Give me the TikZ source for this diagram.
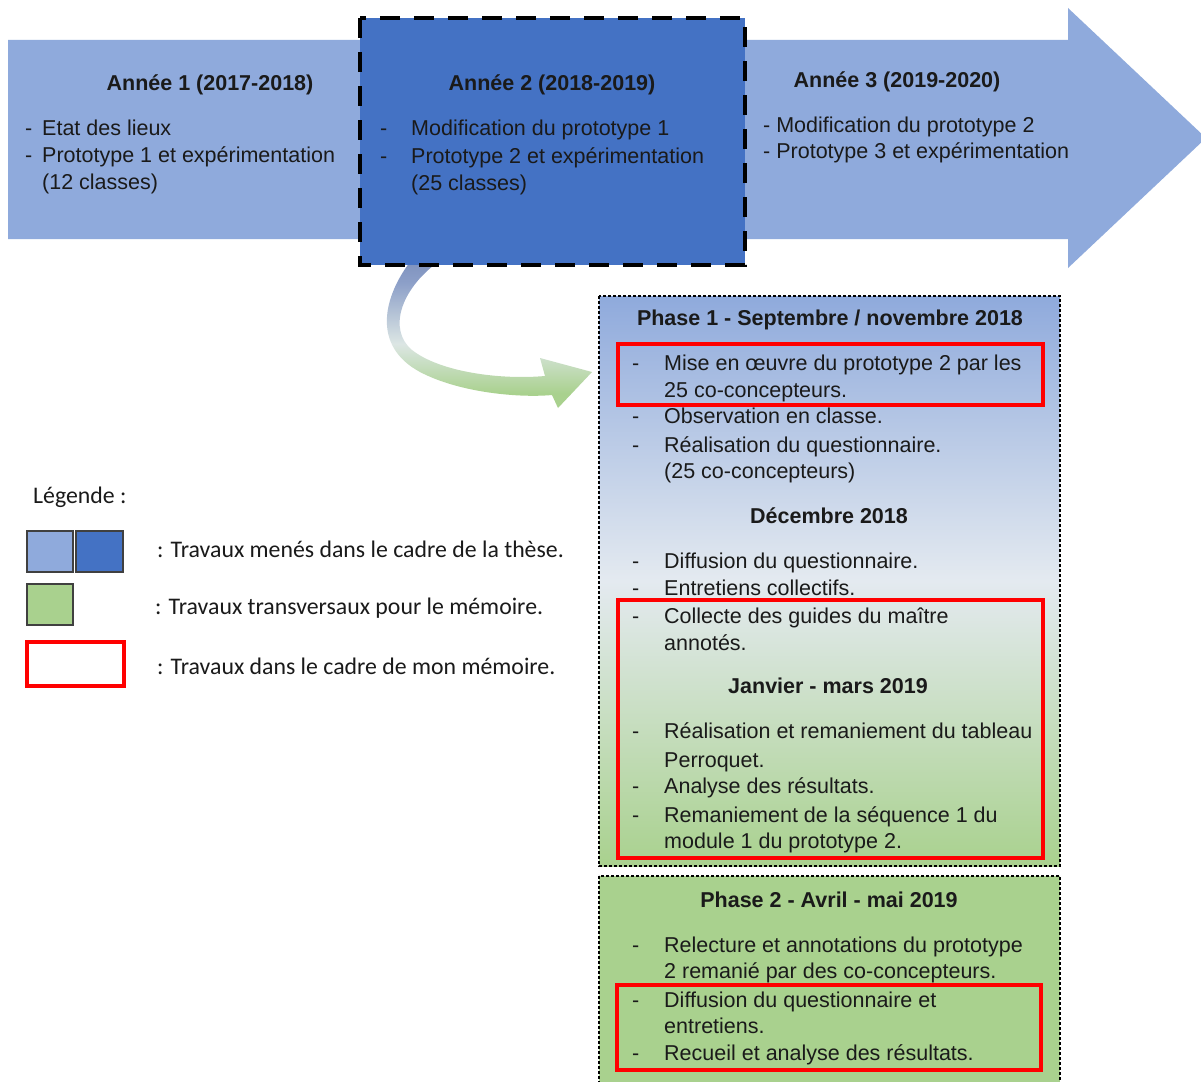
\documentclass[tikz,border=0pt]{standalone}
\usepackage{fontspec}
\setmainfont{Liberation Sans}
\newfontfamily\legfont{Carlito}
\definecolor{lblue}{HTML}{8FAADC}
\definecolor{dblue}{HTML}{4472C4}
\definecolor{lgreen}{HTML}{A9D18E}
\definecolor{redb}{HTML}{FF0000}
\definecolor{arrtop}{HTML}{53689E}
\definecolor{arrup}{HTML}{8C9FC8}
\definecolor{arrmid}{HTML}{DCE6E4}
\definecolor{pmid}{HTML}{E4EAF0}
\definecolor{txtc}{HTML}{1A1A1A}
\pgfdeclareverticalshading{arrsh}{100bp}{color(0bp)=(lgreen); color(30bp)=(lgreen); color(47bp)=(arrmid); color(68bp)=(arrup); color(100bp)=(arrtop)}
\begin{document}
\begin{tikzpicture}[x=1pt,y=-1pt,
  txt/.style={anchor=base west,inner sep=0pt,text=txtc,font=\fontsize{21.5}{26}\selectfont},
  hdr/.style={anchor=base,inner sep=0pt,text=txtc,font=\fontsize{21.5}{26}\selectfont\bfseries},
  leg/.style={anchor=base west,inner sep=0pt,text=txtc,font=\legfont\fontsize{23.8}{28}\selectfont},
  redbox/.style={draw=redb,line width=4pt},
  dotbox/.style={draw=black,line width=2.8pt,dash pattern=on 2.6pt off 2.4pt},
  legsq/.style={draw=black!75,line width=1.5pt}]
\clip (0,0) rectangle (1201,1081);
\fill[white] (0,0) rectangle (1201,1081);
% big timeline arrow
\fill[lblue] (8,40) -- (1068,40) -- (1068,8) -- (1206,138) -- (1068,268) -- (1068,239) -- (8,239) -- cycle;
% curved gradient arrow
\shade[shading=arrsh] (410,262) .. controls (385,295) and (370,345) .. (420,372)
   .. controls (460,393) and (520,398) .. (552,395) -- (558,408) -- (592,372) -- (540,358) -- (545,376)
   .. controls (500,380) and (440,372) .. (412,350) .. controls (388,330) and (400,290) .. (438,262) -- cycle;
% year 2 box
\filldraw[fill=dblue,draw=black,line width=4pt,dash pattern=on 20pt off 14pt] (360,18) rectangle (745,265);
% phase boxes
\shade[top color=lblue,bottom color=lgreen,middle color=pmid] (599,296) rectangle (1060,866);
\draw[dotbox] (599,296) rectangle (1060,866);
\draw[dotbox,fill=lgreen] (599,876) rectangle (1060,1100);
% red boxes
\draw[redbox] (618,344) rectangle (1043,405);
\draw[redbox] (618,600) rectangle (1043,858);
\draw[redbox] (617,985) rectangle (1041,1070);
% Annee 1
\node[hdr] (a1h) at (210,90) {Année 1 (2017-2018)};
\node[txt] (a1d1) at (25,135) {-};
\node[txt] (a1t1) at (42,135) {Etat des lieux};
\node[txt] (a1d2) at (25,162) {-};
\node[txt] (a1t2) at (42,162) {Prototype 1 et expérimentation};
\node[txt] (a1t3) at (42,189) {(12 classes)};
% Annee 2
\node[hdr] (a2h) at (552,90) {Année 2 (2018-2019)};
\node[txt] (a2d1) at (380,135) {-};
\node[txt] (a2t1) at (411,135) {Modification du prototype 1};
\node[txt] (a2d2) at (380,163) {-};
\node[txt] (a2t2) at (411,163) {Prototype 2 et expérimentation};
\node[txt] (a2t3) at (411,190) {(25 classes)};
% Annee 3
\node[hdr] (a3h) at (897,87) {Année 3 (2019-2020)};
\node[txt] (a3t1) at (763,132) {- Modification du prototype 2};
\node[txt] (a3t2) at (763,158) {- Prototype 3 et expérimentation};
% Phase 1
\node[hdr] (p1h) at (830,325) {Phase 1 - Septembre / novembre 2018};
\node[txt] (p1d1) at (632,370) {-};
\node[txt] (p1t1) at (664,370) {Mise en œuvre du prototype 2 par les};
\node[txt] (p1t2) at (664,397) {25 co-concepteurs.};
\node[txt] (p1d3) at (632,423) {-};
\node[txt] (p1t3) at (664,423) {Observation en classe.};
\node[txt] (p1d4) at (632,452) {-};
\node[txt] (p1t4) at (664,452) {Réalisation du questionnaire.};
\node[txt] (p1t5) at (664,478) {(25 co-concepteurs)};
\node[hdr] (dech) at (829,523) {Décembre 2018};
\node[txt] (decd1) at (632,568) {-};
\node[txt] (dect1) at (664,568) {Diffusion du questionnaire.};
\node[txt] (decd2) at (632,595) {-};
\node[txt] (dect2) at (664,595) {Entretiens collectifs.};
\node[txt] (decd3) at (632,623) {-};
\node[txt] (dect3) at (664,623) {Collecte des guides du maître};
\node[txt] (dect4) at (664,650) {annotés.};
\node[hdr] (janh) at (828,693) {Janvier - mars 2019};
\node[txt] (jand1) at (632,738) {-};
\node[txt] (jant1) at (664,738) {Réalisation et remaniement du tableau};
\node[txt] (jant2) at (664,767) {Perroquet.};
\node[txt] (jand3) at (632,793) {-};
\node[txt] (jant3) at (664,793) {Analyse des résultats.};
\node[txt] (jand4) at (632,822) {-};
\node[txt] (jant4) at (664,822) {Remaniement de la séquence 1 du};
\node[txt] (jant5) at (664,848) {module 1 du prototype 2.};
% Phase 2
\node[hdr] (p2h) at (829,907) {Phase 2 - Avril - mai 2019};
\node[txt] (p2d1) at (632,952) {-};
\node[txt] (p2t1) at (664,952) {Relecture et annotations du prototype};
\node[txt] (p2t2) at (664,978) {2 remanié par des co-concepteurs.};
\node[txt] (p2d3) at (632,1007) {-};
\node[txt] (p2t3) at (664,1007) {Diffusion du questionnaire et};
\node[txt] (p2t4) at (664,1033) {entretiens.};
\node[txt] (p2d5) at (632,1060) {-};
\node[txt] (p2t5) at (664,1060) {Recueil et analyse des résultats.};
% legend
\node[leg] (legh) at (33,503) {Légende :};
\draw[legsq,fill=lblue] (27,531) rectangle (73,572);
\draw[legsq,fill=dblue] (76,531) rectangle (123,572);
\draw[legsq,fill=lgreen] (27,584) rectangle (73,625);
\draw[redb,line width=3.5pt] (27,642) rectangle (124,686);
\node[leg] (leg1) at (157,557) {: Travaux menés dans le cadre de la thèse.};
\node[leg] (leg2) at (155,614) {: Travaux transversaux pour le mémoire.};
\node[leg] (leg3) at (157,674) {: Travaux dans le cadre de mon mémoire.};
\end{tikzpicture}
\end{document}
